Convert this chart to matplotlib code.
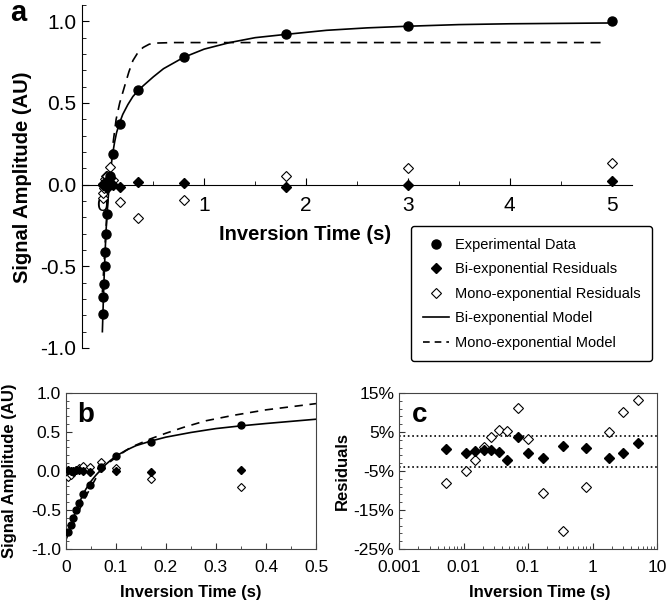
import numpy as np
import matplotlib
matplotlib.use("Agg")
import matplotlib.pyplot as plt
from matplotlib.ticker import MultipleLocator, FixedLocator, FuncFormatter, LogLocator, NullFormatter

plt.rcParams['font.family'] = ['Liberation Sans', 'DejaVu Sans']
plt.rcParams['axes.unicode_minus'] = False

# inversion times (s) and measured signal
inv_time = [0.0053, 0.011, 0.015, 0.021, 0.027, 0.035, 0.048, 0.07, 0.1, 0.17, 0.35, 0.8, 1.8, 3.0, 5.0]
signal = [-0.79, -0.69, -0.61, -0.50, -0.41, -0.30, -0.18, 0.05, 0.19, 0.37, 0.58, 0.78, 0.92, 0.97, 1.00]

# residuals (fraction of signal)
bi_resid = [0.006, -0.003, 0.001, 0.004, 0.004, 0.000, -0.023, 0.038, -0.003, -0.017, 0.015, 0.009, -0.017, -0.003, 0.021]
mono_resid = [-0.081, -0.050, -0.022, 0.012, 0.036, 0.056, 0.052, 0.111, 0.031, -0.106, -0.203, -0.091, 0.051, 0.101, 0.132]

# bi-exponential model curve
bi_t = [0, 0.005, 0.01, 0.015, 0.02, 0.025, 0.03, 0.035, 0.04, 0.05, 0.06, 0.07, 0.08, 0.09, 0.1,
        0.12, 0.14, 0.17, 0.2, 0.25, 0.3, 0.35, 0.4, 0.5, 0.6, 0.8, 1.0, 1.25, 1.5, 1.8, 2.2, 2.6,
        3.0, 3.5, 4.0, 5.0]
bi_model = [-0.90, -0.80, -0.70, -0.61, -0.52, -0.44, -0.37, -0.30, -0.24, -0.14, -0.06, 0.01, 0.08,
            0.135, 0.185, 0.26, 0.32, 0.38, 0.43, 0.49, 0.54, 0.575, 0.605, 0.66, 0.71, 0.78, 0.83,
            0.87, 0.90, 0.92, 0.945, 0.96, 0.97, 0.98, 0.985, 0.99]

# mono-exponential model, as drawn in panel a
mono_t_a = [0, 0.05, 0.1, 0.135, 0.17, 0.217, 0.26, 0.3, 0.35, 0.4, 0.46, 0.53, 0.7, 4.93]
mono_model_a = [-0.66, -0.12, 0.23, 0.40, 0.50, 0.60, 0.69, 0.76, 0.81, 0.84, 0.86, 0.867, 0.87, 0.87]

# mono-exponential model, as drawn in panel b
mono_t_b = [0, 0.02, 0.04, 0.06, 0.07, 0.08, 0.1, 0.13, 0.17, 0.2, 0.235, 0.28, 0.335, 0.4, 0.45, 0.5]
mono_model_b = [-0.88, -0.60, -0.33, -0.10, 0.0, 0.07, 0.17, 0.30, 0.41, 0.48, 0.555, 0.64, 0.71, 0.78, 0.82, 0.86]

W, H = 666, 605
fig = plt.figure(figsize=(W / 100, H / 100), dpi=100)

def fr(x0, y0, x1, y1):
    # pixel box -> figure fraction rect
    return [x0 / W, 1 - y1 / H, (x1 - x0) / W, (y1 - y0) / H]

# ---------------- panel a ----------------
ax = fig.add_axes(fr(82, 5, 632, 348))
ax.plot(bi_t, bi_model, '-', color='black', lw=1.2, zorder=2)
ax.plot(mono_t_a, mono_model_a, '--', color='black', lw=1.2, dashes=(6, 4), zorder=2)
ax.plot(inv_time, mono_resid, 'D', ms=5, mfc='white', mec='black', mew=0.8, zorder=3)
ax.plot(inv_time, bi_resid, 'D', ms=5, color='black', zorder=4)
ax.plot(inv_time, signal, 'o', ms=6.5, color='black', zorder=5)

ax.set_xlim(-0.2, 5.2)
ax.set_ylim(-1.0, 1.1)
ax.spines['top'].set_visible(False)
ax.spines['right'].set_visible(False)
ax.spines['bottom'].set_position(('data', 0))
ax.xaxis.set_major_locator(FixedLocator([0, 1, 2, 3, 4, 5]))
ax.xaxis.set_minor_locator(FixedLocator([0.5, 1.5, 2.5, 3.5, 4.5]))
ax.yaxis.set_major_locator(FixedLocator([-1.0, -0.5, 0.0, 0.5, 1.0]))
ax.yaxis.set_minor_locator(MultipleLocator(0.1))
ax.yaxis.set_major_formatter(FuncFormatter(lambda v, p: f'{v:.1f}'))
ax.tick_params(which='both', direction='in', labelsize=15)
ax.tick_params(which='major', length=5)
ax.tick_params(which='minor', length=3)
ax.tick_params(axis='x', pad=8)
ax.tick_params(axis='y', pad=4)
ax.set_ylabel('Signal Amplitude (AU)', fontsize=14.5, fontweight='bold')
ax.yaxis.set_label_coords((32 - 82) / 550, (348 - 177) / 343)
ax.set_xlabel('Inversion Time (s)', fontsize=14.5, fontweight='bold', va='center')
ax.xaxis.set_label_coords((305 - 82) / 550, (348 - 235) / 343)
fig.text(10 / W, 1 - 13 / H, 'a', fontsize=21, fontweight='bold', va='center')

# legend for the whole figure
h_exp, = ax.plot([], [], 'o', ms=6.5, color='black', label='Experimental Data')
h_bi, = ax.plot([], [], 'D', ms=5, color='black', label='Bi-exponential Residuals')
h_mono, = ax.plot([], [], 'D', ms=5, mfc='white', mec='black', mew=0.8, label='Mono-exponential Residuals')
h_bim, = ax.plot([], [], '-', color='black', lw=1.2, label='Bi-exponential Model')
h_mom, = ax.plot([], [], '--', color='black', lw=1.2, dashes=(4, 3), label='Mono-exponential Model')
leg = fig.legend(handles=[h_exp, h_bi, h_mono, h_bim, h_mom], loc='upper left',
                 bbox_to_anchor=(411 / W, 1 - 226 / H), borderaxespad=0, fontsize=10.5,
                 frameon=True, fancybox=True, edgecolor='black', handlelength=1.8,
                 labelspacing=0.72, borderpad=0.8, handletextpad=0.4)
leg.get_frame().set_linewidth(1.0)
leg.get_frame().set_alpha(1)

# ---------------- panel b ----------------
bx = fig.add_axes(fr(65.7, 392.7, 316, 548.7))
bx.plot(bi_t, bi_model, '-', color='black', lw=1.2, zorder=2)
bx.plot(mono_t_b, mono_model_b, '--', color='black', lw=1.2, dashes=(5, 4), zorder=2)
bx.plot(inv_time, mono_resid, 'D', ms=4.5, mfc='white', mec='black', mew=0.8, zorder=3)
bx.plot(inv_time, bi_resid, 'D', ms=4.5, color='black', zorder=4)
bx.plot(inv_time, signal, 'o', ms=5, color='black', zorder=5)
bx.set_xlim(0, 0.5)
bx.set_ylim(-1.0, 1.0)
bx.xaxis.set_major_locator(MultipleLocator(0.1))
bx.xaxis.set_minor_locator(MultipleLocator(0.05))
bx.yaxis.set_major_locator(MultipleLocator(0.5))
bx.yaxis.set_minor_locator(MultipleLocator(0.1))
bx.xaxis.set_major_formatter(FuncFormatter(lambda v, p: '0' if abs(v) < 1e-9 else f'{v:.1f}'))
bx.yaxis.set_major_formatter(FuncFormatter(lambda v, p: f'{v:.1f}'))
bx.tick_params(which='both', direction='in', labelsize=12.5, color='#333333')
bx.tick_params(which='major', length=4)
bx.tick_params(which='minor', length=2.5)
bx.tick_params(axis='x', pad=8)
for s in bx.spines.values():
    s.set_color('#444444')
bx.set_ylabel('Signal Amplitude (AU)', fontsize=12, fontweight='bold')
bx.yaxis.set_label_coords((17 - 65.7) / 250.3, 0.5)
bx.set_xlabel('Inversion Time (s)', fontsize=12, fontweight='bold', va='center')
bx.xaxis.set_label_coords(0.5, (548.7 - 592) / 156)
bx.text(0.045, 0.86, 'b', transform=bx.transAxes, fontsize=20, fontweight='bold', va='center')

# ---------------- panel c ----------------
cx = fig.add_axes(fr(399, 393, 657, 549))
cx.axhline(0.04, color='black', ls=':', lw=1.2)
cx.axhline(-0.04, color='black', ls=':', lw=1.2)
cx.plot(inv_time, mono_resid, 'D', ms=5, mfc='white', mec='black', mew=0.8, zorder=3)
cx.plot(inv_time, bi_resid, 'D', ms=5, color='black', zorder=4)
cx.set_xscale('log')
cx.set_xlim(0.001, 10)
cx.set_ylim(-0.25, 0.15)
cx.xaxis.set_major_locator(LogLocator(base=10, numticks=10))
cx.xaxis.set_minor_locator(LogLocator(base=10, subs=np.arange(2, 10), numticks=20))
cx.xaxis.set_minor_formatter(NullFormatter())
cx.xaxis.set_major_formatter(FuncFormatter(lambda v, p: f'{v:g}'))
cx.yaxis.set_major_locator(FixedLocator([-0.25, -0.15, -0.05, 0.05, 0.15]))
cx.yaxis.set_minor_locator(FixedLocator(np.arange(-0.25, 0.151, 0.02)))
cx.yaxis.set_major_formatter(FuncFormatter(lambda v, p: f'{v * 100:.0f}%'))
cx.tick_params(which='both', direction='in', labelsize=12.5, color='#333333')
cx.tick_params(which='major', length=4)
cx.tick_params(which='minor', length=2.5)
cx.tick_params(axis='x', pad=8)
for s in cx.spines.values():
    s.set_color('#444444')
cx.set_ylabel('Residuals', fontsize=12, fontweight='bold')
cx.yaxis.set_label_coords((350 - 399) / 258, 0.5)
cx.set_xlabel('Inversion Time (s)', fontsize=12, fontweight='bold', va='center')
cx.xaxis.set_label_coords((540 - 399) / 258, (549 - 592) / 156)
cx.text(0.05, 0.86, 'c', transform=cx.transAxes, fontsize=20, fontweight='bold', va='center')

fig.savefig('out.png', dpi=100)
